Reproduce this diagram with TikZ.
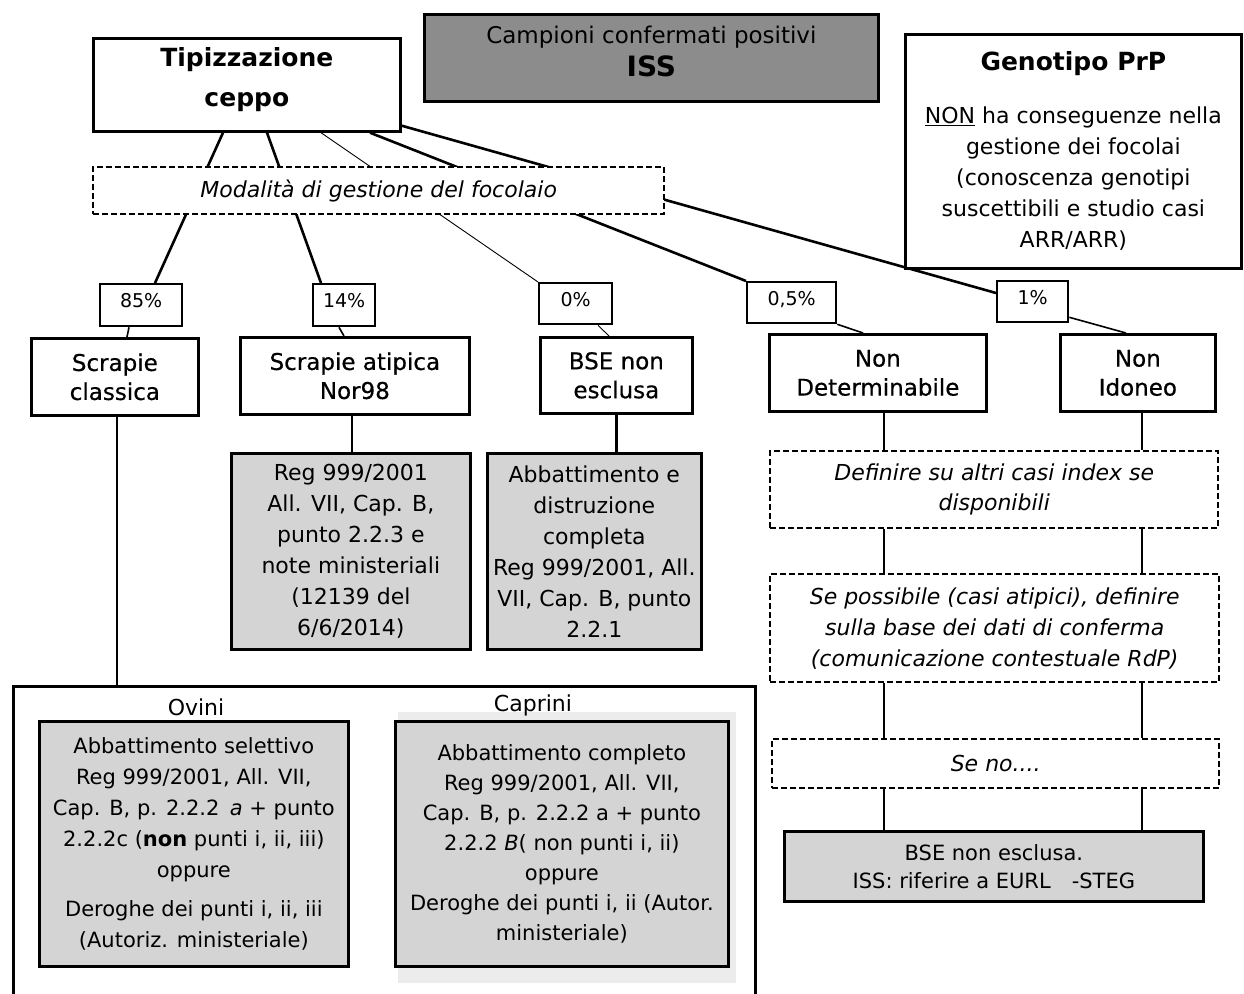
\documentclass[tikz,border=0pt]{standalone}
\usepackage{fontspec}
\setmainfont{DejaVu Sans}
\newfontface\catfont[FakeBold=0.5]{DejaVu Sans}
\usetikzlibrary{backgrounds}
\definecolor{darkg}{RGB}{140,140,140}
\definecolor{lightg}{RGB}{212,212,212}
\definecolor{halo}{RGB}{236,236,236}
\newcommand{\fsz}[2]{\fontsize{#1}{#2}\selectfont}
\begin{document}
\begin{tikzpicture}[x=1pt,y=-1pt,
 box/.style={draw, line width=2.7pt, fill=white, inner sep=2pt, align=center, anchor=north west, font=\fsz{22}{31}},
 dbox/.style={box, line width=2.4pt, dash pattern=on 6pt off 3pt, font=\itshape\fsz{22}{30}},
 gbox/.style={box, fill=lightg},
 pbox/.style={box, line width=2.3pt, font=\fsz{19}{22}, text depth=9pt},
 catbox/.style={box, font=\catfont\fsz{23}{29}},
 conn/.style={line width=2.6pt},
 midconn/.style={line width=1.6pt},
 thinconn/.style={line width=0.9pt}]
\useasboundingbox (0,0) rectangle (1244,993);

% top row
\node[box, minimum width=307pt, minimum height=93pt, font=\bfseries\fsz{25}{40}, text depth=16pt] (tip) at (92,37) {Tipizzazione\\ceppo};
\node[box, fill=darkg, minimum width=454pt, minimum height=87pt, text depth=14pt] (camp) at (423,13)
  {{\fsz{23}{26}Campioni confermati positivi}\\[2pt]{\bfseries\fsz{28}{34}ISS}};
\node[box, minimum width=336pt, minimum height=234pt, font=\fsz{22}{31}] (geno) at (904,33)
  {{\bfseries\fsz{25}{30}Genotipo PrP}\\[22pt]\underline{NON} ha conseguenze nella\\gestione dei focolai\\(conoscenza genotipi\\suscettibili e studio casi\\ARR/ARR)};

\node[dbox, minimum width=571pt, minimum height=47pt] (moda) at (92,166) {Modalità di gestione del focolaio};

% percentages
\node[pbox, minimum width=82pt, minimum height=42pt] (p85) at (99,283) {85\%};
\node[pbox, minimum width=62pt, minimum height=42pt] (p14) at (312,283) {14\%};
\node[pbox, minimum width=73pt, minimum height=41pt] (p0) at (538,282) {0\%};
\node[pbox, minimum width=89pt, minimum height=41pt] (p05) at (746,281) {0,5\%};
\node[pbox, minimum width=71pt, minimum height=41pt] (p1) at (996,280) {1\%};

% categories
\node[catbox, minimum width=167pt, minimum height=77pt] (sc) at (30,337) {Scrapie\\classica};
\node[catbox, minimum width=229pt, minimum height=77pt] (sa) at (239,336) {Scrapie atipica\\Nor98};
\node[catbox, minimum width=152pt, minimum height=76pt] (bse) at (539,336) {BSE non\\esclusa};
\node[catbox, minimum width=217pt, minimum height=77pt] (nd) at (768,333) {Non\\Determinabile};
\node[catbox, minimum width=155pt, minimum height=77pt] (ni) at (1059,333) {Non\\Idoneo};

% gray boxes
\node[gbox, minimum width=239pt, minimum height=196pt] (nor) at (230,452)
  {Reg 999/2001\\All. VII, Cap. B,\\punto 2.2.3 e\\note ministeriali\\(12139 del\\6/6/2014)};
\node[gbox, minimum width=214pt, minimum height=196pt] (abb) at (486,452)
  {Abbattimento e\\distruzione\\completa\\Reg 999/2001, All.\\VII, Cap. B, punto\\2.2.1};

% right column
\node[dbox, minimum width=448pt, minimum height=77pt] (def) at (769,450) {Definire su altri casi index se\\disponibili};
\node[dbox, minimum width=449pt, minimum height=108pt, font=\itshape\fsz{22}{31}] (sep) at (769,573)
  {Se possibile (casi atipici), definire\\sulla base dei dati di conferma\\(comunicazione contestuale RdP)};
\node[dbox, minimum width=447pt, minimum height=49pt] (seno) at (771,738) {Se no....};
\node[gbox, minimum width=419pt, minimum height=70pt, font=\fsz{21}{28}] (bseiss) at (783,830)
  {BSE non esclusa.\\ISS: riferire a EURL\quad -STEG};

% ovini / caprini
\node[box, minimum width=742pt, minimum height=320pt] (big) at (12,685) {};
\fill[halo] (398,712) rectangle (736,983);
\node[font=\fsz{22}{25}] (lov) at (196,707) {Ovini};
\node[font=\fsz{22}{25}] (lcap) at (533,705) {Caprini};
\node[gbox, minimum width=309pt, minimum height=245pt, font=\fsz{21}{31}] (ov) at (38,720)
  {Abbattimento selettivo\\Reg 999/2001, All. VII,\\Cap. B, p. 2.2.2\enspace\textit{a} + punto\\2.2.2c (\textbf{non} punti i, ii, iii)\\oppure\\[8pt]Deroghe dei punti i, ii, iii\\(Autoriz. ministeriale)};
\node[gbox, minimum width=333pt, minimum height=245pt, font=\fsz{21}{30}] (cap) at (394,720)
  {Abbattimento completo\\Reg 999/2001, All. VII,\\Cap. B, p. 2.2.2 a + punto\\2.2.2 \textit{B}( non punti i, ii)\\oppure\\Deroghe dei punti i, ii (Autor.\\ministeriale)};

% connectors
\coordinate (cl) at (884,0);
\coordinate (cr) at (1142,0);
\coordinate (scb) at ([xshift=87pt]sc.south west);
\begin{scope}[on background layer]
\draw[conn] ([xshift=131pt]tip.south west) -- ([xshift=56pt]p85.north west);
\draw[conn] ([xshift=175pt]tip.south west) -- ([xshift=9pt]p14.north west);
\draw[thinconn] ([xshift=229pt]tip.south west) -- (p0.north west);
\draw[conn] ([xshift=278pt]tip.south west) -- (p05.north west);
\draw[conn] ([yshift=7pt]tip.south east) -- ([yshift=-13pt]p1.north west);

\draw[midconn] ([xshift=30pt]p85.south west) -- ([xshift=97pt]sc.north west);
\draw[midconn] ([xshift=27pt]p14.south west) -- ([xshift=105pt]sa.north west);
\draw[thinconn] ([xshift=60pt]p0.south west) -- ([xshift=70pt]bse.north west);
\draw[midconn] (p05.south east) -- ([xshift=95pt]nd.north west);
\draw[midconn] ([yshift=6pt]p1.south east) -- ([xshift=67pt]ni.north west);

\draw[conn] (scb) -- (scb |- big.north);
\draw[conn] ([xshift=-3pt]sa.south) -- ([xshift=-3pt]sa.south |- nor.north);
\draw[conn] (bse.south) -- (bse.south |- abb.north);

\draw[midconn] (cl |- nd.south) -- (cl |- def.north);
\draw[midconn] (cr |- ni.south) -- (cr |- def.north);
\draw[midconn] (cl |- def.south) -- (cl |- sep.north);
\draw[midconn] (cr |- def.south) -- (cr |- sep.north);
\draw[midconn] (cl |- sep.south) -- (cl |- seno.north);
\draw[midconn] (cr |- sep.south) -- (cr |- seno.north);
\draw[midconn] (cl |- seno.south) -- (cl |- bseiss.north);
\draw[midconn] (cr |- seno.south) -- (cr |- bseiss.north);
\end{scope}
\end{tikzpicture}
\end{document}
